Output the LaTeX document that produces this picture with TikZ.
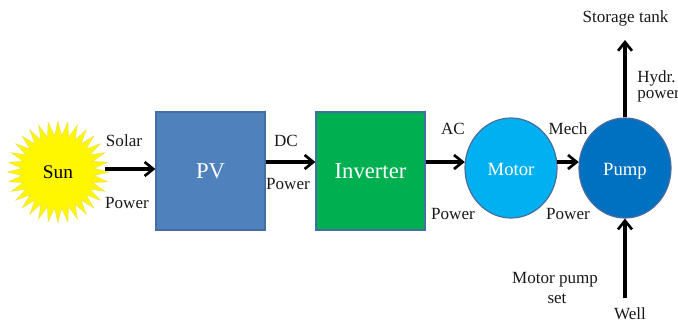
\documentclass[tikz,border=0pt]{standalone}
\usepackage{fontspec}
\setmainfont{Liberation Serif}
\usetikzlibrary{shapes.geometric,arrows.meta}
\definecolor{pvblue}{HTML}{4F81BD}
\definecolor{pvedge}{HTML}{446FA3}
\definecolor{invgreen}{HTML}{00B050}
\definecolor{motorblue}{HTML}{00B0F0}
\definecolor{pumpblue}{HTML}{0070C0}
\definecolor{roundedge}{HTML}{4A6E9C}
\definecolor{sunyellow}{HTML}{FFF700}
\definecolor{sunedge}{HTML}{EFE640}
\tikzset{
  block/.style={rectangle,draw=pvedge,line width=0.9pt,minimum width=81.75pt,minimum height=88.5pt,inner sep=0pt,text=white,font=\fontsize{17}{20}\selectfont},
  wheel/.style={ellipse,draw=roundedge,line width=0.9pt,minimum width=69pt,minimum height=75pt,inner sep=0pt,text=white,font=\fontsize{14}{17}\selectfont},
  flow/.style={line width=2.3pt,-{Straight Barb[length=6.5pt,width=10.5pt,line width=2pt]}},
  lab/.style={inner sep=0pt,anchor=base,text=black!90,font=\fontsize{12.8}{15}\selectfont},
}
\begin{document}
\begin{tikzpicture}[x=0.75pt,y=-0.75pt]
\useasboundingbox (0,0) rectangle (678,322);
\node[star,star points=32,star point ratio=1.4,minimum size=75.5pt,inner sep=0pt,fill=sunyellow,draw=sunedge,line width=0.5pt,font=\fontsize{14.5}{16}\selectfont] (sun) at (58,172) {Sun};
\node[block,fill=pvblue] (pv) at (210.5,171) {PV};
\node[block,fill=invgreen] (inv) at (370.5,171) {Inverter};
\node[wheel,fill=motorblue] (motor) at (511,168) {\raisebox{-5.8pt}[0pt][0pt]{Motor}};
\node[wheel,fill=pumpblue] (pump) at (625,168) {\raisebox{-5.8pt}[0pt][0pt]{Pump}};
\coordinate (tank) at (625,40);
\coordinate (well) at (625,298);
\draw[flow] ([yshift=2.25pt]sun.center -| 105,172) -- ([yshift=2.25pt]sun.center -| pv.west);
\draw[flow] ([yshift=6.75pt]pv.east) -- ([yshift=6.75pt]inv.west);
\draw[flow] ([yshift=6.75pt]inv.east) -- ([yshift=6.75pt]inv.east -| motor.172);
\draw[flow] ([yshift=6.75pt]inv.east -| motor.8) -- ([yshift=6.75pt]inv.east -| pump.172);
\draw[flow] (pump.north) -- (tank);
\draw[flow] (well) -- (pump.south);
\node[lab] (l1) at (124,146) {Solar};
\node[lab] (l2) at (127,208) {Power};
\node[lab] (l3) at (286,146) {DC};
\node[lab] (l4) at (288,189) {Power};
\node[lab] (l5) at (453,134) {AC};
\node[lab] (l6) at (453,219) {Power};
\node[lab] (l7) at (568,134) {Mech};
\node[lab] (l8) at (568,219) {Power};
\node[lab] (l9) at (625.5,22) {Storage tank};
\node[lab,anchor=base west] (l10) at (637,82) {Hydr.};
\node[lab,anchor=base west] (l11) at (637,98) {power};
\node[lab] (l12) at (555,283) {Motor pump};
\node[lab] (l13) at (557,303) {set};
\node[lab] (l14) at (630,319) {Well};
\end{tikzpicture}
\end{document}
